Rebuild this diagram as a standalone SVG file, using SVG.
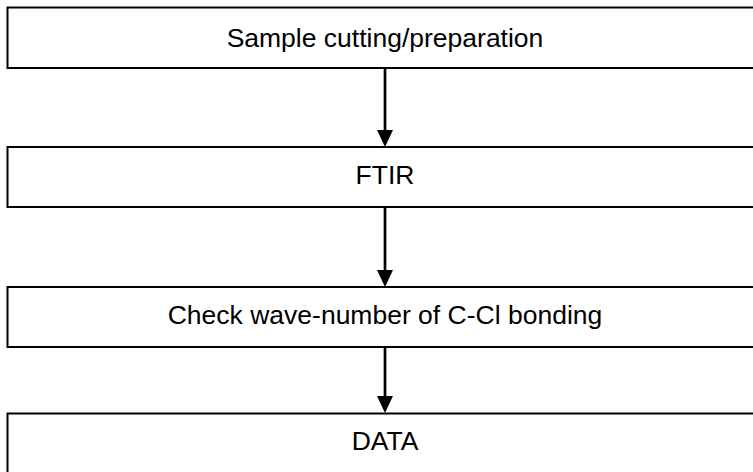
<svg xmlns="http://www.w3.org/2000/svg" width="753" height="472" viewBox="0 0 753 472">
<defs>
<style>
.box{fill:#fff;stroke:#000;stroke-width:2}
.lbl{font-family:"Liberation Sans",Arial,sans-serif;font-size:26.5px;fill:#000;text-anchor:middle}
.conn{stroke:#000;stroke-width:2.7;fill:none}
</style>
</defs>
<rect width="753" height="472" fill="#fff"/>
<g id="node1"><rect class="box" x="7.5" y="7.5" width="755" height="60.5"/><text class="lbl" x="385" y="46.5">Sample cutting/preparation</text></g>
<g id="node2"><rect class="box" x="7.5" y="147" width="755" height="60"/><text class="lbl" x="385" y="184">FTIR</text></g>
<g id="node3"><rect class="box" x="7.5" y="287" width="755" height="60"/><text class="lbl" x="385" y="324">Check wave-number of C-Cl bonding</text></g>
<g id="node4"><rect class="box" x="7.5" y="413.5" width="755" height="80"/><text class="lbl" x="385" y="449.5">DATA</text></g>
<g id="connectors">
<path d="M385,68 V130" class="conn"/><path d="M377,130 L393,130 L385,147 Z" fill="#000"/>
<path d="M385,207 V270" class="conn"/><path d="M377,270 L393,270 L385,287 Z" fill="#000"/>
<path d="M385,347 V396" class="conn"/><path d="M377,396 L393,396 L385,413 Z" fill="#000"/>
</g>
</svg>
